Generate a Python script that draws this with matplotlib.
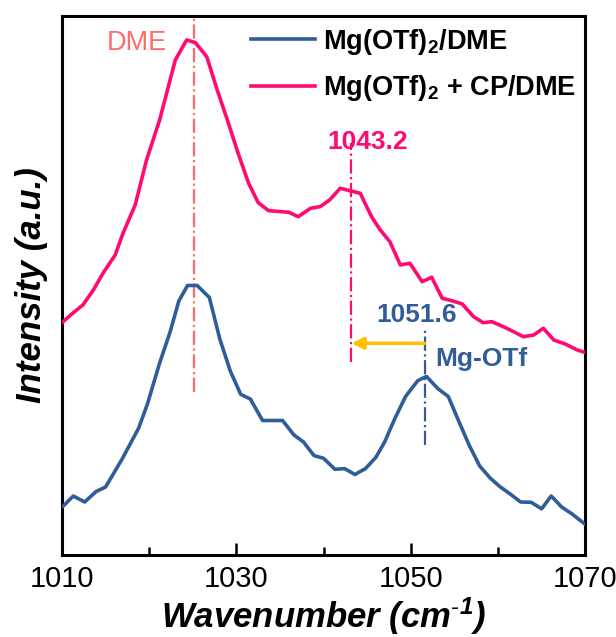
import matplotlib
matplotlib.use('Agg')
import matplotlib.pyplot as plt
from matplotlib.ticker import MultipleLocator, FixedLocator

plt.rcParams['font.family'] = ['Liberation Sans', 'DejaVu Sans']
plt.rcParams['mathtext.fontset'] = 'custom'
plt.rcParams['mathtext.rm'] = 'Liberation Sans'
plt.rcParams['mathtext.bf'] = 'Liberation Sans:bold'
plt.rcParams['mathtext.it'] = 'Liberation Sans:italic'
plt.rcParams['mathtext.bfit'] = 'Liberation Sans:italic:bold'

# Raman spectra, wavenumber (cm-1) vs intensity (a.u., offset)
wn_blue = [1010.1, 1011.3, 1012.6, 1013.9, 1015.0, 1016.9, 1018.8, 1019.8, 1021.2,
           1022.4, 1023.4, 1024.4, 1025.5, 1026.9, 1028.1, 1029.3, 1030.5, 1031.6,
           1033.0, 1035.3, 1036.6, 1037.7, 1038.9, 1040.0, 1041.3, 1042.4, 1043.6,
           1044.8, 1046.0, 1047.0, 1048.2, 1049.4, 1050.8, 1051.8, 1053.1, 1054.3,
           1055.5, 1056.7, 1057.9, 1059.1, 1060.2, 1061.4, 1062.6, 1063.8, 1065.0,
           1066.1, 1067.3, 1068.5, 1070.0]
int_blue = [48.6, 59, 53, 63.4, 68, 96, 127, 151, 192,
            223, 254, 269.5, 269.5, 257.5, 216, 184, 160.6, 156,
            134.5, 134.5, 120, 113, 99.4, 96.7, 85.7, 86.4, 80.5,
            86.4, 97.7, 113, 137, 158.5, 174.3, 178.5, 166.4, 158.5,
            133.8, 109.7, 89, 77, 68.5, 61, 53, 52.7, 46.2,
            59, 48, 41, 30.7]

wn_pink = [1010.0, 1011.3, 1012.4, 1013.6, 1014.7, 1016.1, 1017.0, 1018.4, 1019.7,
           1021.2, 1023.0, 1024.3, 1025.3, 1026.6, 1027.8, 1028.9, 1030.2, 1031.4,
           1032.5, 1033.7, 1036.0, 1037.1, 1038.5, 1039.6, 1040.7, 1041.9, 1043.0,
           1044.2, 1045.5, 1046.5, 1047.6, 1048.8, 1049.9, 1051.3, 1052.4, 1053.6,
           1054.7, 1055.9, 1057.2, 1058.3, 1059.3, 1060.6, 1061.8, 1062.9, 1064.1,
           1065.2, 1066.4, 1067.7, 1069.1, 1070.0]
int_pink = [232.3, 242.3, 250, 265, 281.7, 300, 321.7, 350, 395,
            435, 495, 515, 512.3, 498.3, 465, 436.7, 401.7, 371.7,
            352.3, 344.3, 342.7, 338.3, 346.7, 348.3, 355, 366.7, 364.3,
            361.7, 338.3, 325, 313.3, 290, 291.7, 273.3, 277.7, 256.7,
            254.3, 251, 238.3, 232.3, 233.3, 228.3, 223.3, 218.3, 220,
            226.7, 215, 211, 205, 202.5]

labels = ['Mg(OTf)$_\\mathbf{2}$/DME', 'Mg(OTf)$_\\mathbf{2}$ + CP/DME']
c_blue = '#2F5D97'
c_pink = '#FF0A73'
c_dme = '#FF6A6A'
c_arrow = '#FFC000'

peak_dme = 1025.1
peak_cp = 1043.2
peak_otf = 1051.6

fig = plt.figure(figsize=(6.16, 6.37), dpi=100)
ax = fig.add_axes([0.1006, 0.1287, 0.8494, 0.8463])

ax.plot(wn_blue, int_blue, color=c_blue, lw=2.6, label=labels[0], zorder=3)
ax.plot(wn_pink, int_pink, color=c_pink, lw=2.6, label=labels[1], zorder=3)

# guide lines
ax.plot([peak_dme, peak_dme], [163, 539], color=c_dme, lw=1.6, ls='-.', zorder=2)
ax.plot([peak_cp, peak_cp], [193, 412], color=c_pink, lw=1.6, ls='-.', zorder=2)
ax.plot([peak_otf, peak_otf], [110, 225], color=c_blue, lw=1.6, ls='-.', zorder=2)

ax.annotate('', xy=(peak_cp, 211.7), xytext=(peak_otf, 211.7),
            arrowprops=dict(arrowstyle='-|>,head_length=0.7,head_width=0.35',
                            color=c_arrow, lw=2.5, shrinkA=0, shrinkB=0))

ax.text(1018.55, 512, 'DME', color=c_dme, fontsize=19.5, ha='center', va='center')
ax.text(1045.05, 413, '1043.2', color=c_pink, fontsize=19, fontweight='bold',
        ha='center', va='center')
ax.text(1050.7, 240, '1051.6', color=c_blue, fontsize=19, fontweight='bold',
        ha='center', va='center')
ax.text(1058.15, 196, 'Mg-OTf', color=c_blue, fontsize=19, fontweight='bold',
        ha='center', va='center')

leg = ax.legend(loc='upper left', bbox_to_anchor=(0.361, 0.98), frameon=False,
                borderpad=0, borderaxespad=0, handlelength=2.37, handletextpad=0.3,
                labelspacing=0.62, prop={'size': 19.5, 'weight': 'bold'})
for line in leg.get_lines():
    line.set_linewidth(2.6)

ax.set_xlim(1010, 1070)
ax.set_ylim(0, 539)
ax.xaxis.set_major_locator(FixedLocator([1010, 1030, 1050, 1070]))
ax.xaxis.set_minor_locator(MultipleLocator(10))
ax.set_yticks([])
ax.tick_params(axis='x', which='major', direction='in', length=8.6, width=1.8,
               labelsize=21, pad=7)
ax.tick_params(axis='x', which='minor', direction='in', length=5.8, width=1.8)
for s in ax.spines.values():
    s.set_linewidth(2.2)

ax.set_xlabel('Wavenumber (cm$^{\\mathbfit{\\text{-}1}}$)', fontsize=25,
              fontweight='bold', fontstyle='italic', labelpad=2)
ax.set_ylabel('Intensity (a.u.)', fontsize=25, fontweight='bold',
              fontstyle='italic', labelpad=10)

fig.savefig('out.png', dpi=100)
